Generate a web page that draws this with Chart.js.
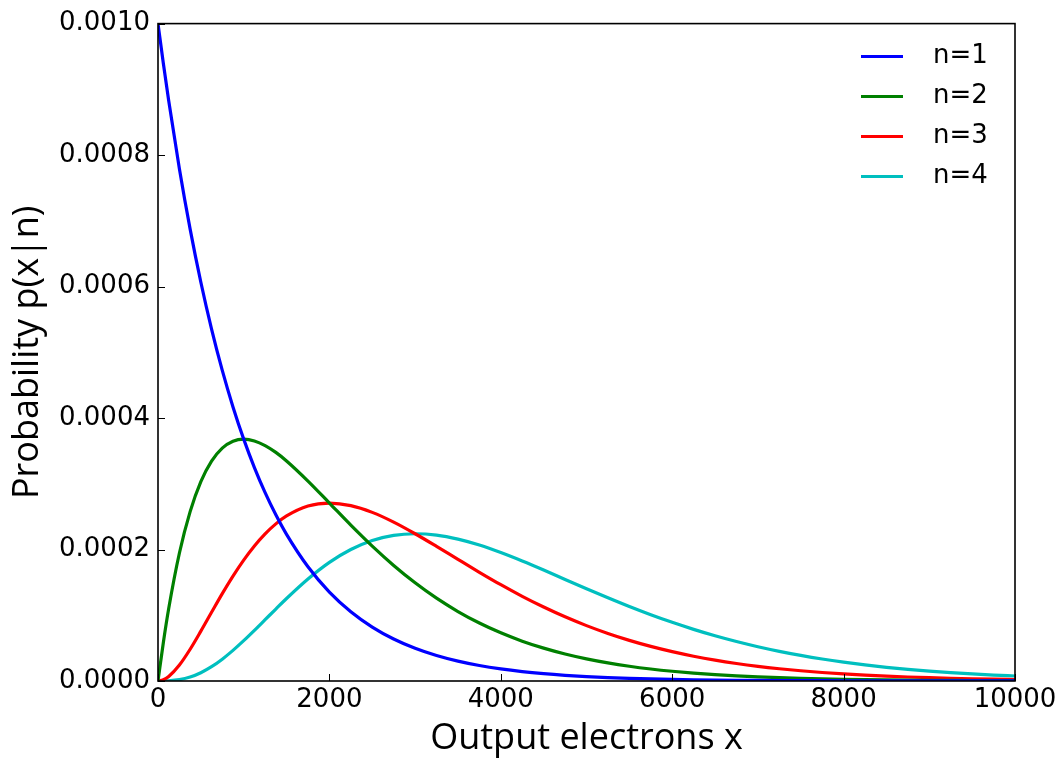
<!DOCTYPE html>
<html>
<head>
<meta charset="utf-8">
<script src="https://cdn.jsdelivr.net/npm/chart.js@4/dist/chart.umd.min.js"></script>
<style>
  html, body { margin: 0; padding: 0; background: #fff; }
  #wrap { width: 1063px; height: 760px; }
</style>
</head>
<body>
<div id="wrap"><canvas id="gainChart" width="1063" height="760"></canvas></div>
<script>
// Output electron count (x axis samples, denser near the origin)
const electrons = [0, 62.5, 125, 250, 375, 500, 625, 750, 875, 1000, 1125, 1250, 1375, 1500,
  1750, 2000, 2250, 2500, 2750, 3000, 3250, 3500, 3750, 4000, 4250, 4500, 4750, 5000,
  5250, 5500, 5750, 6000, 6250, 6500, 6750, 7000, 7250, 7500, 7750, 8000, 8250, 8500,
  8750, 9000, 9250, 9500, 9750, 10000];

// p(x|n) for n = 1..4 input electrons
const probN1 = [1.000e-3, 9.394e-4, 8.825e-4, 7.788e-4, 6.873e-4, 6.065e-4, 5.353e-4, 4.724e-4,
  4.169e-4, 3.679e-4, 3.247e-4, 2.865e-4, 2.528e-4, 2.231e-4, 1.738e-4,
  1.353e-4, 1.054e-4, 8.208e-5, 6.393e-5, 4.979e-5, 3.877e-5, 3.020e-5, 2.352e-5, 1.832e-5,
  1.426e-5, 1.111e-5, 8.652e-6, 6.738e-6, 5.248e-6, 4.087e-6, 3.183e-6, 2.479e-6, 1.930e-6,
  1.503e-6, 1.171e-6, 9.119e-7, 7.102e-7, 5.531e-7, 4.307e-7, 3.355e-7, 2.613e-7, 2.035e-7,
  1.585e-7, 1.234e-7, 9.611e-8, 7.485e-8, 5.829e-8, 4.540e-8];
const probN2 = [0, 5.871e-5, 1.103e-4, 1.947e-4, 2.577e-4, 3.033e-4, 3.345e-4, 3.543e-4,
  3.648e-4, 3.679e-4, 3.652e-4, 3.581e-4, 3.477e-4, 3.347e-4, 3.041e-4,
  2.707e-4, 2.371e-4, 2.052e-4, 1.758e-4, 1.494e-4, 1.260e-4, 1.057e-4, 8.820e-5, 7.326e-5,
  6.061e-5, 5.000e-5, 4.110e-5, 3.369e-5, 2.755e-5, 2.248e-5, 1.830e-5, 1.487e-5, 1.206e-5,
  9.770e-6, 7.904e-6, 6.383e-6, 5.149e-6, 4.148e-6, 3.338e-6, 2.684e-6, 2.156e-6, 1.730e-6,
  1.387e-6, 1.111e-6, 8.890e-7, 7.111e-7, 5.683e-7, 4.540e-7];
const probN3 = [0, 1.835e-6, 6.894e-6, 2.434e-5, 4.832e-5, 7.582e-5, 1.045e-4, 1.329e-4,
  1.596e-4, 1.839e-4, 2.054e-4, 2.238e-4, 2.390e-4, 2.510e-4, 2.661e-4,
  2.707e-4, 2.668e-4, 2.565e-4, 2.417e-4, 2.240e-4, 2.048e-4, 1.850e-4, 1.654e-4, 1.465e-4,
  1.288e-4, 1.125e-4, 9.761e-5, 8.423e-5, 7.232e-5, 6.182e-5, 5.261e-5, 4.461e-5, 3.769e-5,
  3.175e-5, 2.668e-5, 2.234e-5, 1.867e-5, 1.556e-5, 1.293e-5, 1.074e-5, 8.894e-6, 7.353e-6,
  6.068e-6, 5.000e-6, 4.112e-6, 3.378e-6, 2.770e-6, 2.270e-6];
const probN4 = [0, 3.820e-8, 2.873e-7, 2.028e-6, 6.040e-6, 1.264e-5, 2.177e-5, 3.323e-5,
  4.655e-5, 6.130e-5, 7.703e-5, 9.325e-5, 1.095e-4, 1.255e-4, 1.552e-4,
  1.805e-4, 2.001e-4, 2.138e-4, 2.216e-4, 2.240e-4, 2.219e-4, 2.158e-4, 2.068e-4, 1.953e-4,
  1.825e-4, 1.688e-4, 1.545e-4, 1.404e-4, 1.266e-4, 1.133e-4, 1.008e-4, 8.922e-5, 7.852e-5,
  6.879e-5, 6.003e-5, 5.213e-5, 4.512e-5, 3.890e-5, 3.340e-5, 2.864e-5, 2.446e-5, 2.083e-5,
  1.770e-5, 1.500e-5, 1.268e-5, 1.070e-5, 9.003e-6, 7.567e-6];

const seriesLabels = ['n=1', 'n=2', 'n=3', 'n=4'];
const seriesColors = ['#0000ff', '#008000', '#ff0000', '#00bfbf'];
const seriesData = [probN1, probN2, probN3, probN4];

const tickFont = { family: 'DejaVu Sans', size: 26 };
const titleFont = { family: 'Open Sans', size: 36 };

// Frame, inward tick marks and an unboxed legend in the upper right
const framePlugin = {
  id: 'frame',
  afterDatasetsDraw(chart) {
    const { ctx, chartArea: a, scales } = chart;
    ctx.save();
    ctx.strokeStyle = '#000';
    ctx.lineWidth = 1;
    scales.x.ticks.forEach(t => {
      const px = Math.round(scales.x.getPixelForValue(t.value)) + 0.5;
      ctx.beginPath();
      ctx.moveTo(px, a.bottom);
      ctx.lineTo(px, a.bottom - 7);
      ctx.stroke();
    });
    scales.y.ticks.forEach(t => {
      const py = Math.round(scales.y.getPixelForValue(t.value)) + 0.5;
      ctx.beginPath();
      ctx.moveTo(a.left, py);
      ctx.lineTo(a.left + 7, py);
      ctx.stroke();
    });
    ctx.lineWidth = 1.6;
    ctx.strokeRect(a.left, a.top, a.right - a.left, a.bottom - a.top);

    // legend
    ctx.font = '26px "DejaVu Sans"';
    ctx.textBaseline = 'middle';
    ctx.textAlign = 'left';
    chart.data.datasets.forEach((ds, i) => {
      const y = a.top + 33 + i * 40;
      ctx.strokeStyle = ds.borderColor;
      ctx.lineWidth = 3;
      ctx.beginPath();
      ctx.moveTo(a.right - 154, y);
      ctx.lineTo(a.right - 112, y);
      ctx.stroke();
      ctx.fillStyle = '#000';
      ctx.fillText(ds.label, a.right - 82, y);
    });
    ctx.restore();
  }
};

new Chart(document.getElementById('gainChart'), {
  type: 'line',
  data: {
    datasets: seriesData.map((vals, i) => ({
      label: seriesLabels[i],
      data: electrons.map((x, j) => ({ x: x, y: vals[j] })),
      borderColor: seriesColors[i],
      borderWidth: 3.2,
      pointRadius: 0,
      fill: false,
      cubicInterpolationMode: 'monotone'
    }))
  },
  options: {
    responsive: false,
    animation: false,
    layout: { padding: { top: 22, right: 48, left: 0, bottom: 0 } },
    plugins: {
      legend: { display: false },
      tooltip: { enabled: false }
    },
    scales: {
      x: {
        type: 'linear',
        min: 0,
        max: 10000,
        grid: { display: false, drawTicks: false },
        border: { display: false },
        ticks: { stepSize: 2000, color: '#000', font: tickFont, padding: 4, maxRotation: 0, callback: v => String(v) },
        title: { display: true, text: 'Output electrons x', color: '#000', font: titleFont, padding: { top: 0, bottom: 0 } },
        afterFit(scale) { scale.height = 79; }
      },
      y: {
        min: 0,
        max: 0.001,
        grid: { display: false, drawTicks: false },
        border: { display: false },
        ticks: {
          stepSize: 0.0002,
          color: '#000',
          font: tickFont,
          padding: 8,
          callback: v => v.toFixed(4)
        },
        title: { display: true, text: 'Probability p(x|n)', color: '#000', font: titleFont, padding: { top: 6, bottom: 0 } },
        afterFit(scale) { scale.width = 158; }
      }
    }
  },
  plugins: [framePlugin]
});
</script>
</body>
</html>
